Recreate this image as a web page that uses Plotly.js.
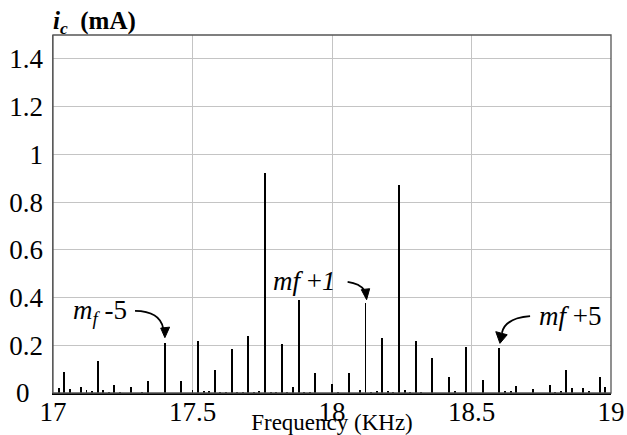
<!DOCTYPE html>
<html><head><meta charset="utf-8">
<script src="https://cdn.plot.ly/plotly-3.0.1.min.js"></script>
<style>html,body{margin:0;padding:0;background:#fff}#chart{width:627px;height:435px}</style>
</head><body><div id="chart"></div>
<script>
// Harmonic spectrum of the capacitor current around mf (kHz, mA)
const freqKHz = [17.02,17.04,17.06,17.10,17.12,17.14,17.16,17.18,17.20,17.22,17.24,17.28,17.32,17.34,
  17.40,17.46,17.50,17.52,17.54,17.56,17.58,17.60,17.62,17.64,17.66,17.68,17.70,17.72,17.74,17.76,
  17.78,17.80,17.82,17.84,17.86,17.88,17.90,17.92,17.94,18.00,18.02,18.06,18.10,18.12,18.14,18.16,
  18.18,18.20,18.22,18.24,18.26,18.28,18.30,18.32,18.36,18.42,18.44,18.48,18.54,18.60,18.62,18.64,
  18.66,18.72,18.78,18.80,18.82,18.84,18.86,18.90,18.92,18.96,18.98];
const currentMA = [0.020,0.088,0.015,0.024,0.013,0.008,0.135,0.013,0.006,0.035,0.006,0.027,0.005,0.049,
  0.210,0.050,0.011,0.218,0.008,0.008,0.097,0.006,0.006,0.185,0.006,0.005,0.237,0.006,0.010,0.920,
  0.006,0.006,0.207,0.005,0.024,0.390,0.005,0.005,0.084,0.038,0.005,0.083,0.013,0.377,0.005,0.008,
  0.231,0.010,0.005,0.873,0.013,0.005,0.218,0.005,0.145,0.066,0.008,0.193,0.056,0.188,0.008,0.008,
  0.029,0.015,0.032,0.006,0.008,0.097,0.022,0.022,0.008,0.066,0.025];

const xTickVals = [17, 17.5, 18, 18.5, 19];
const xTickText = ["17", "17.5", "18", "18.5", "19"];
const yTickVals = [0, 0.2, 0.4, 0.6, 0.8, 1.0, 1.2, 1.4];
const yTickText = ["0\u00a0\u00a0", "0.2", "0.4", "0.6", "0.8", "1", "1.2", "1.4"];

const serif = "Times New Roman";

// curved pointer arrows (data coordinates): [start, control, end] and arrowhead triangles
const arrows = [
  {curve: [[17.294,0.344],[17.383,0.343],[17.395,0.271]], head: [[17.386,0.272],[17.418,0.276],[17.401,0.232]]},
  {curve: [[18.056,0.466],[18.100,0.458],[18.115,0.432]], head: [[18.105,0.433],[18.135,0.437],[18.124,0.391]]},
  {curve: [[18.710,0.322],[18.620,0.314],[18.609,0.252]], head: [[18.587,0.257],[18.628,0.244],[18.602,0.208]]}
];
const shapes = [];
arrows.forEach(a => {
  const c = a.curve, h = a.head;
  shapes.push({type:'path', xref:'x', yref:'y',
    path:`M ${c[0][0]},${c[0][1]} Q ${c[1][0]},${c[1][1]} ${c[2][0]},${c[2][1]}`,
    line:{color:'#000', width:1.8}});
  shapes.push({type:'path', xref:'x', yref:'y',
    path:`M ${h[0][0]},${h[0][1]} L ${h[1][0]},${h[1][1]} L ${h[2][0]},${h[2][1]} Z`,
    fillcolor:'#000', line:{color:'#000', width:1}});
});
// plot border
shapes.push({type:'rect', xref:'paper', yref:'paper', x0:0, x1:1, y0:0, y1:1,
  line:{color:'#555', width:1.3}, layer:'above'});

const annotations = [
  {xref:'paper', yref:'paper', x:-0.004, y:1, xanchor:'left', yanchor:'bottom', showarrow:false, yshift:-5,
   text:'<b><i>i</i><sub><i>c</i></sub>  (mA)</b>', font:{family:serif, size:25, color:'#000'}},
  {xref:'x', yref:'y', x:17.066, y:0.338, xanchor:'left', yanchor:'middle', showarrow:false,
   text:'<i>m</i><sub><i>f</i></sub> -5', font:{family:serif, size:27, color:'#000'}},
  {xref:'x', yref:'y', x:17.783, y:0.469, xanchor:'left', yanchor:'middle', showarrow:false,
   text:'<i>mf</i> +<i>1</i>', font:{family:serif, size:27, color:'#000'}},
  {xref:'x', yref:'y', x:18.733, y:0.322, xanchor:'left', yanchor:'middle', showarrow:false,
   text:'<i>mf</i> +5', font:{family:serif, size:27, color:'#000'}}
];

const trace = {
  type:'bar', x:freqKHz, y:currentMA, width:0.007,
  marker:{color:'#000', line:{width:0}}, hoverinfo:'x+y'
};

const layout = {
  width:627, height:435,
  margin:{l:53, r:16, t:35, b:42},
  paper_bgcolor:'#fff', plot_bgcolor:'#fff',
  showlegend:false,
  bargap:0,
  font:{family:serif, color:'#000'},
  xaxis:{
    range:[17,19], tickmode:'array', tickvals:xTickVals, ticktext:xTickText,
    showgrid:true, gridcolor:'#c4c4c4', gridwidth:1,
    showline:true, linecolor:'#000', linewidth:2,
    ticks:'', zeroline:false, ticklabelstandoff:-6,
    tickfont:{family:serif, size:27, color:'#000'},
    title:{text:'Frequency (KHz)', font:{family:serif, size:23, color:'#000'}, standoff:0}
  },
  yaxis:{
    range:[0,1.5], tickmode:'array', tickvals:yTickVals, ticktext:yTickText,
    showgrid:true, gridcolor:'#c4c4c4', gridwidth:1,
    showline:true, linecolor:'#666', linewidth:1.5,
    ticks:'', zeroline:false, ticklabelstandoff:3,
    tickfont:{family:serif, size:27, color:'#000'}
  },
  shapes:shapes,
  annotations:annotations
};

Plotly.newPlot('chart', [trace], layout, {displayModeBar:false, staticPlot:true});
</script>
</body></html>
